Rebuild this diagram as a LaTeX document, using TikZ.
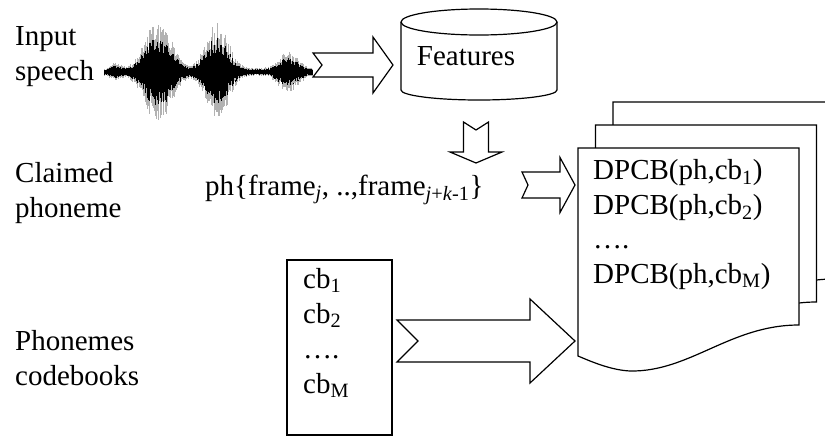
\documentclass[tikz,border=0pt]{standalone}
\usepackage{fontspec}
\setmainfont{Liberation Serif}
\usepackage{tikz}
\usetikzlibrary{calc}

\tikzset{
	pics/fatarrow/.style args={#1/#2/#3/#4/#5}{code={
		% length / shaft half width / head half width / head length / notch
		\draw[line width=1.2pt,fill=white] (0,-#2) -- ({#1-#4},-#2) -- ({#1-#4},-#3) -- (#1,0)
			-- ({#1-#4},#3) -- ({#1-#4},#2) -- (0,#2) -- (#5,0) -- cycle;
	}}
}

\begin{document}
\begin{tikzpicture}[x=1pt,y=-1pt,
		box/.style={line width=1.2pt},
		lbl/.style={inner sep=0pt,align=left,anchor=base west,font=\fontsize{29}{35}\selectfont}
	]
		\useasboundingbox (0,0) rectangle (825,437);
		\clip (0,0) rectangle (825,437);
		
		% Labels on the left (placed at the baseline of their last line)
		\node[lbl] (input) at (15,80) {Input\\speech};
		\node[lbl] (claimed) at (15,217) {Claimed\\phoneme};
		\node[lbl] (phonemes) at (15,385) {Phonemes\\codebooks};
		
		% Speech waveform
		\pgfmathsetseed{11}
		\draw[teal!50!black,thin] (104,72) -- (313,72);
		\foreach \x in {104,104.7,...,313}{
			\pgfmathsetmacro{\env}{4+48*exp(-((\x-158)/18)^2)+46*exp(-((\x-217)/15)^2)+17*exp(-((\x-288)/13)^2)+6*exp(-((\x-116)/6)^2)}
			\pgfmathsetmacro{\up}{\env*(0.55+0.45*rnd)}
			\pgfmathsetmacro{\dn}{\env*(0.55+0.45*rnd)}
			\draw[gray!60,line width=0.5pt] (\x,72-\up) -- (\x,72+\dn);
			\draw[black,line width=0.8pt] (\x,72-0.7*\up) -- (\x,72+0.7*\dn);
		}
		
		% Features store
		\draw[box] (401,22) -- (401,90) arc[start angle=180,end angle=0,x radius=78,y radius=10] -- (557,22);
		\draw[box] (479,22) ellipse[x radius=78,y radius=13];
		\node[lbl,anchor=base] (feat) at (466,65) {Features};
		
		% Claimed phoneme frames
		\node[lbl] (frames) at (205,195) {ph\{frame\textsubscript{\textit{j}}, ..,frame\textsubscript{\textit{j}+\textit{k}-1}\}};
		
		% Stacked result pages, back to front
		\foreach \i in {2,1,0}{
			\draw[box,fill=white,shift={(\i*17.5,-\i*23)}] (578,148) -- (799,148) -- (799,325)
				.. controls (730,325) and (690,372) .. (630,371)
				.. controls (610,370) and (590,361) .. (578,356) -- cycle;
		}
		\node[lbl,font=\fontsize{29}{34.4}\selectfont] (dpcb) at (593,283) {DPCB(ph,cb\textsubscript{1})\\DPCB(ph,cb\textsubscript{2})\\….\\DPCB(ph,cb\textsubscript{M})};
		
		% Codebooks
		\draw[box] (287,260) rectangle (392,435);
		\node[lbl] (cb) at (303,393) {cb\textsubscript{1}\\cb\textsubscript{2}\\….\\cb\textsubscript{M}};
		
		% Block arrows
		\coordinate (a1) at (313,65);
		\coordinate (a2) at (476,122);
		\coordinate (a3) at (522,185);
		\coordinate (a4) at (397,341);
		\pic at (a1) {fatarrow=80/12/28/20/9};
		\pic[rotate=-90] at (a2) {fatarrow=41/12.5/26/11/8};
		\pic at (a3) {fatarrow=53/13/27.5/15/6};
		\pic at (a4) {fatarrow=178/21/42/45/21};
	\end{tikzpicture}
\end{document}
